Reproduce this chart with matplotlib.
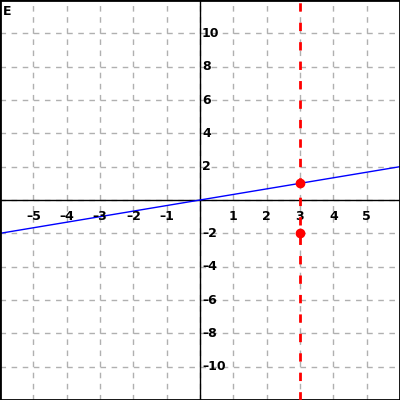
import numpy as np
import matplotlib
matplotlib.use('Agg')
import matplotlib.pyplot as plt

# dados
x_ticks = [-5, -4, -3, -2, -1, 1, 2, 3, 4, 5]
y_ticks = [-10, -8, -6, -4, -2, 2, 4, 6, 8, 10]
slope = 1 / 3
line_x = [-6, 6]
vline_x = 3
points_x = [3, 3]
points_y = [1, -2]

fig = plt.figure(figsize=(4, 4), dpi=100)
ax = fig.add_axes([0, 0, 1, 1])
ax.set_xlim(-6, 6)
ax.set_ylim(-12, 12)
ax.set_xticks([])
ax.set_yticks([])

# grade tracejada
for gx in range(-5, 6):
    ax.axvline(gx, color='#b0b0b0', lw=1, ls=(0, (4, 4)), zorder=0)
for gy in range(-10, 12, 2):
    ax.axhline(gy, color='#b0b0b0', lw=1, ls=(0, (4, 4)), zorder=0)

ax.axhline(0, color='black', lw=1, zorder=1)
ax.axvline(0, color='black', lw=1, zorder=1)

for s in ax.spines.values():
    s.set_linewidth(2)
    s.set_color('black')

fonte = dict(family='DejaVu Sans', fontweight='bold', fontsize=9)
def rotulo(v):
    return str(v).replace('-', '\u2013')

for t in x_ticks:
    ax.text(t, -0.6, rotulo(t), ha='center', va='top', **fonte)
for t in y_ticks:
    ax.text(0.06, t, rotulo(t), ha='left', va='center', **fonte)

ax.text(-5.9, 11.7, 'E', ha='left', va='top', **fonte)

ly = [slope * v for v in line_x]
ax.plot(line_x, ly, color='blue', lw=1, zorder=2)
ax.axvline(vline_x, color='red', lw=2, ls=(0, (3, 4)), zorder=3)
ax.plot(points_x, points_y, 'o', color='red', markersize=6, zorder=4)

fig.savefig('out.png', dpi=100)
